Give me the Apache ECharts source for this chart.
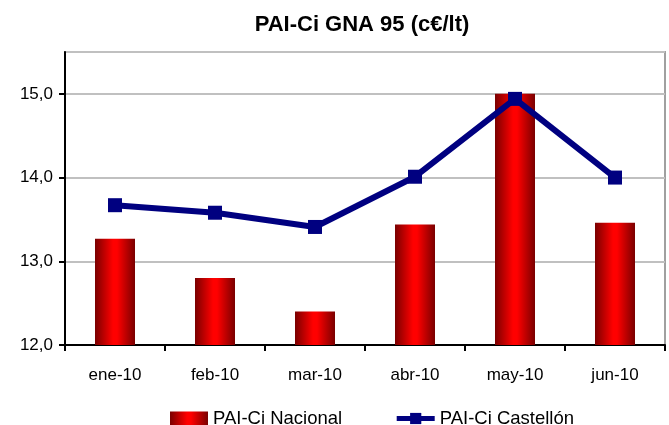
<!DOCTYPE html>
<html><head><meta charset="utf-8">
<script src="https://cdn.jsdelivr.net/npm/echarts@6/dist/echarts.min.js"></script>
<style>html,body{margin:0;padding:0;background:#fff}#c{width:669px;height:425px}</style>
</head><body><div id="c"></div>
<script>
const categories = ['ene-10','feb-10','mar-10','abr-10','may-10','jun-10'];
const nacional = [13.27, 12.80, 12.40, 13.44, 15.00, 13.46];
const castellon = [13.67, 13.58, 13.41, 14.01, 14.94, 14.00];
const titleText = 'PAI-Ci GNA 95 (c€/lt)';

const chart = echarts.init(document.getElementById('c'));
const barGrad = new echarts.graphic.LinearGradient(0,0,1,0,[
  {offset:0,color:'#7a0000'},{offset:0.45,color:'#ff0000'},{offset:0.55,color:'#ff0000'},{offset:1,color:'#7a0000'}]);
chart.setOption({
  animation:false,
  title:{text:titleText,left:357,textAlign:'center',top:9,
    textStyle:{fontFamily:'Liberation Sans',fontWeight:'bold',fontSize:22,color:'#000'}},
  legend:{top:404,left:165,itemGap:52,itemWidth:38,itemHeight:14,itemTextGap:7,
    textStyle:{fontFamily:'Liberation Sans',fontSize:18.5,color:'#000'},
    data:[{name:'PAI-Ci Nacional',icon:'rect',itemStyle:{color:barGrad}},
          {name:'PAI-Ci Castellón',lineStyle:{width:5}}]},
  grid:{left:65,right:4,top:52,bottom:80,show:true,borderColor:'#a0a0a0',borderWidth:2},
  xAxis:{type:'category',data:categories,
    axisLine:{lineStyle:{color:'#000',width:2}},
    axisTick:{show:true,length:6,lineStyle:{color:'#000',width:2}},
    axisLabel:{fontFamily:'Liberation Sans',fontSize:17,color:'#000',margin:22}},
  yAxis:{type:'value',min:12,max:15.5,interval:1,
    axisLine:{show:true,lineStyle:{color:'#000',width:2}},
    axisTick:{show:true,length:6,lineStyle:{color:'#000',width:2}},
    splitLine:{lineStyle:{color:'#c0c0c0',width:2}},
    axisLabel:{fontFamily:'Liberation Sans',fontSize:17,color:'#000',margin:12,showMaxLabel:false,
      formatter:v=>v.toFixed(1).replace('.',',')}},
  series:[
    {name:'PAI-Ci Nacional',type:'bar',data:nacional,barWidth:40,itemStyle:{color:barGrad}},
    {name:'PAI-Ci Castellón',type:'line',data:castellon,symbol:'rect',symbolSize:14,
      lineStyle:{color:'#000080',width:6},itemStyle:{color:'#000080'}}
  ]
});
</script></body></html>
